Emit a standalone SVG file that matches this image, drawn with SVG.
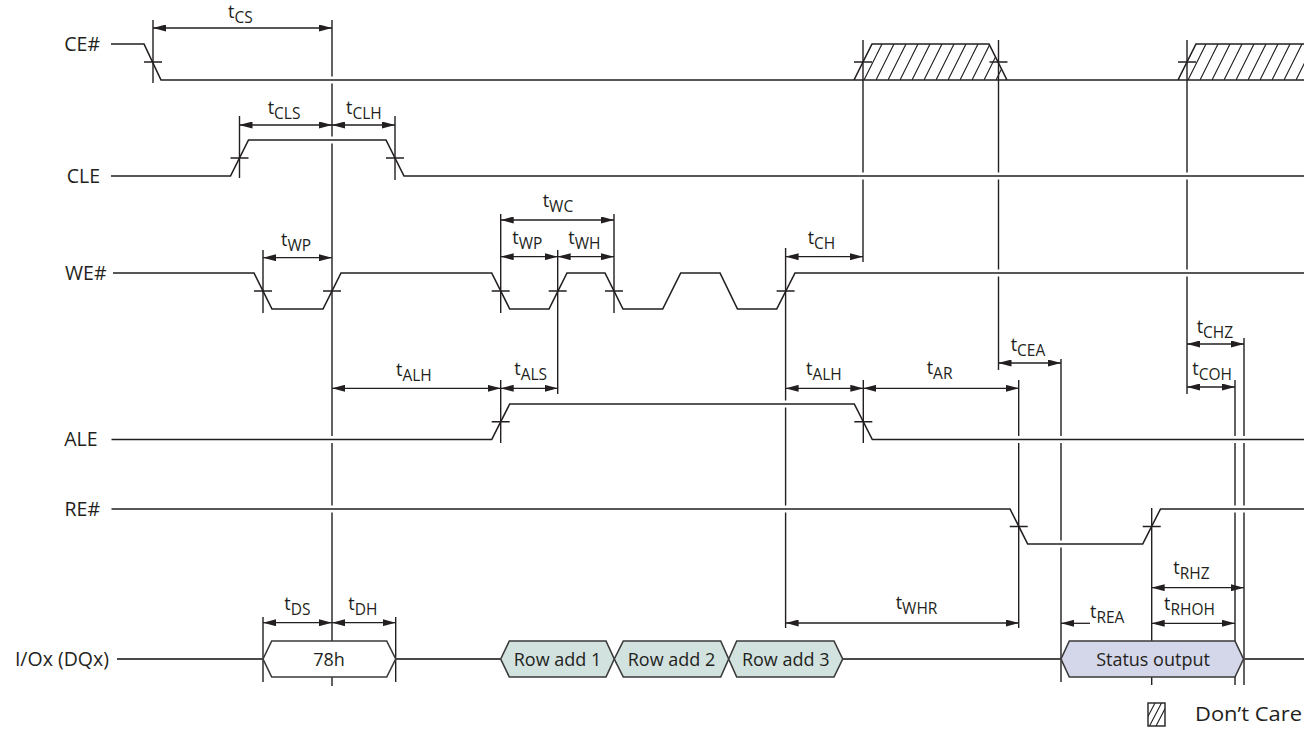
<svg xmlns="http://www.w3.org/2000/svg" width="1312" height="738" viewBox="0 0 1312 738">
<style>
.sig{fill:none;stroke:#231f20;stroke-width:1.6;stroke-linejoin:miter}
.halo{fill:none;stroke:#ffffff;stroke-width:7}
.vl{fill:none;stroke:#231f20;stroke-width:1.4}
.tk{fill:none;stroke:#231f20;stroke-width:1.4}
.dim{fill:none;stroke:#231f20;stroke-width:1.3;marker-start:url(#ah);marker-end:url(#ah)}
.io{fill:none;stroke:#4a4a4a;stroke-width:2}
.bus{stroke:#3a3a3a;stroke-width:1.6;stroke-linejoin:miter}
.lbl{font-family:"Open Sans","Liberation Sans",sans-serif;font-size:19.5px;fill:#231f20}
.bt{font-family:"Open Sans","Liberation Sans",sans-serif;font-size:18px;fill:#231f20;text-anchor:middle}
.tm{font-family:"Open Sans","Liberation Sans",sans-serif;font-size:18px;fill:#231f20}
.sub{font-size:15.5px}
</style>
<defs>
<marker id="ah" markerUnits="userSpaceOnUse" markerWidth="13" markerHeight="7" refX="13" refY="3.5" orient="auto-start-reverse">
<path d="M0,0 L13,3.5 L0,7 z" fill="#231f20"/>
</marker>
<pattern id="hatch" patternUnits="userSpaceOnUse" x="0" y="44" width="12" height="36">
<path d="M-12,36 L6,0 M0,36 L18,0" stroke="#231f20" stroke-width="1.2" fill="none"/>
</pattern>
<clipPath id="lgclip"><rect x="1148" y="703" width="17" height="23"/></clipPath>
</defs>
<rect width="1312" height="738" fill="#ffffff"/>

<g id="connectors">
<g id="verticals">
<path class="vl" d="M153,20V83 M332,20V686 M239.5,116V178 M395,116V180 M263,250V313 M500.7,214V313 M614,214V313 M557.7,250V394 M785.6,248V628 M863,40V262 M500.7,380V443 M863.3,380V443 M998.5,40V370 M1187,40V394 M1018.7,380V628 M1061,359V682 M1151.7,508V685 M1235,380V685 M1244,338V685 M263,617V682 M395.7,617V682"/>
</g>
<g id="halos">
<path class="halo" d="M161,80H845 M248,140H386 M404,176H1304 M800,273H1304 M111,439.5H486 M514,404H849 M877,439.5H1304 M111,509H1005 M1033,544H1138 M1165,509H1304"/>
</g>
</g>

<g id="sig-ce">
<text class="lbl" x="100" y="50.5" text-anchor="end">CE#</text>
<polygon points="854,80 872,44 989,44 1007,80" fill="url(#hatch)"/>
<polygon points="1178,80 1196,44 1304,44 1304,80" fill="url(#hatch)"/>
<path class="sig" d="M111,44H144L161,80H1304 M854,80L872,44H989L1007,80 M1178,80L1196,44H1304"/>
<path class="tk" d="M144,62H162 M854,62H872 M989.5,62H1007.5 M1178,62H1196"/>
</g>

<g id="sig-cle">
<text class="lbl" x="100" y="182.5" text-anchor="end">CLE</text>
<path class="sig" d="M111,176H230.5L248.5,140H386L404,176H1304"/>
<path class="tk" d="M230.5,158H248.5 M386,158H404"/>
</g>

<g id="sig-we">
<text class="lbl" x="106.5" y="279.5" text-anchor="end">WE#</text>
<path class="sig" d="M113,273H254L272,309H323L341,273H491.7L509.7,309H549L567,273H605L623,309H662.7L680.7,273H720L737.5,309H776.7L795,273H1304"/>
<path class="tk" d="M254,291H272 M323,291H341 M491.7,291H509.7 M548.7,291H566.7 M605,291H623 M776.6,291H794.6"/>
</g>

<g id="sig-ale">
<text class="lbl" x="97.5" y="446" text-anchor="end">ALE</text>
<path class="sig" d="M111.5,439.5H491.7L509.7,404H854.3L872.3,439.5H1304"/>
<path class="tk" d="M491.7,421.7H509.7 M854.3,421.7H872.3"/>
</g>

<g id="sig-re">
<text class="lbl" x="100" y="515.5" text-anchor="end">RE#</text>
<path class="sig" d="M111.5,509H1010L1027.7,544H1142.7L1160.5,509H1304"/>
<path class="tk" d="M1009.7,526.5H1027.7 M1142.7,526.5H1160.7"/>
</g>

<g id="sig-io">
<text class="lbl" x="109" y="665.5" text-anchor="end">I/Ox (DQx)</text>
<path class="io" d="M117,659H263 M395.7,659H500.7 M842.7,659H1061 M1243.5,659H1304"/>
</g>

<g id="bus-78h">
<polygon class="bus" fill="#ffffff" points="263,659 271.7,641 386.7,641 395.7,659 386.7,677 271.7,677"/>
<text class="bt" x="329" y="665.5">78h</text>
</g>
<g id="bus-row1">
<polygon class="bus" fill="#d1e2df" points="500.7,659 509.3,641 606,641 614.3,659 606,677 509.3,677"/>
<text class="bt" x="557.5" y="665.5">Row add 1</text>
</g>
<g id="bus-row2">
<polygon class="bus" fill="#d1e2df" points="614.3,659 623.3,641 720.7,641 728.7,659 720.7,677 623.3,677"/>
<text class="bt" x="671.5" y="665.5">Row add 2</text>
</g>
<g id="bus-row3">
<polygon class="bus" fill="#d1e2df" points="728.7,659 736.7,641 834,641 842.7,659 834,677 736.7,677"/>
<text class="bt" x="785.7" y="665.5">Row add 3</text>
</g>
<g id="bus-status">
<polygon class="bus" fill="#d4d6e9" points="1061,659 1069.3,641 1235,641 1243.5,659 1235,677 1069.3,677"/>
<text class="bt" x="1153" y="665.5">Status output</text>
</g>

<g id="dimensions">
<path class="dim" d="M153,28H332"/>
<path class="dim" d="M239.5,125H332"/>
<path class="dim" d="M332,125H395"/>
<path class="dim" d="M263,257.7H332"/>
<path class="dim" d="M500.7,220H614"/>
<path class="dim" d="M500.7,256.7H557.7"/>
<path class="dim" d="M557.7,256.7H614"/>
<path class="dim" d="M785.6,256.7H863"/>
<path class="dim" d="M332,388.3H500.7"/>
<path class="dim" d="M500.7,388.3H557.7"/>
<path class="dim" d="M785.6,388.3H863.3"/>
<path class="dim" d="M863.3,388.3H1018.7"/>
<path class="dim" d="M998.5,363H1061"/>
<path class="dim" d="M1187,344H1244"/>
<path class="dim" d="M1187,387H1235"/>
<path class="dim" d="M1151.7,587.7H1244"/>
<path class="dim" d="M1151.7,623.3H1235"/>
<path fill="none" stroke="#231f20" stroke-width="1.3" marker-start="url(#ah)" d="M1061,623.3H1090"/>
<path class="dim" d="M785.6,623H1018.7"/>
<path class="dim" d="M263,622.7H332"/>
<path class="dim" d="M332,622.7H395.7"/>
</g>

<g id="timing-labels">
<text class="tm" x="228" y="18">t<tspan class="sub" dy="5">CS</tspan></text>
<text class="tm" x="267.7" y="114">t<tspan class="sub" dy="5">CLS</tspan></text>
<text class="tm" x="346" y="114">t<tspan class="sub" dy="5">CLH</tspan></text>
<text class="tm" x="281" y="246">t<tspan class="sub" dy="5">WP</tspan></text>
<text class="tm" x="542.7" y="207">t<tspan class="sub" dy="5">WC</tspan></text>
<text class="tm" x="512.3" y="244">t<tspan class="sub" dy="5">WP</tspan></text>
<text class="tm" x="568.3" y="244">t<tspan class="sub" dy="5">WH</tspan></text>
<text class="tm" x="807.7" y="244">t<tspan class="sub" dy="5">CH</tspan></text>
<text class="tm" x="396" y="375.7">t<tspan class="sub" dy="5">ALH</tspan></text>
<text class="tm" x="514.3" y="375">t<tspan class="sub" dy="5">ALS</tspan></text>
<text class="tm" x="806" y="375">t<tspan class="sub" dy="5">ALH</tspan></text>
<text class="tm" x="926.7" y="374">t<tspan class="sub" dy="5">AR</tspan></text>
<text class="tm" x="1010.7" y="350.5">t<tspan class="sub" dy="5">CEA</tspan></text>
<text class="tm" x="1196.7" y="332.7">t<tspan class="sub" dy="5">CHZ</tspan></text>
<text class="tm" x="1192.3" y="375">t<tspan class="sub" dy="5">COH</tspan></text>
<text class="tm" x="1173.3" y="574">t<tspan class="sub" dy="5">RHZ</tspan></text>
<text class="tm" x="1164" y="610">t<tspan class="sub" dy="5">RHOH</tspan></text>
<text class="tm" x="1090" y="617.7">t<tspan class="sub" dy="5">REA</tspan></text>
<text class="tm" x="895.7" y="609">t<tspan class="sub" dy="5">WHR</tspan></text>
<text class="tm" x="284.3" y="610">t<tspan class="sub" dy="5">DS</tspan></text>
<text class="tm" x="348.3" y="610">t<tspan class="sub" dy="5">DH</tspan></text>
</g>

<g id="legend">
<g clip-path="url(#lgclip)">
<path d="M1143,726L1155,703 M1149.5,726L1161.5,703 M1156,726L1168,703" stroke="#231f20" stroke-width="1.1" fill="none"/>
</g>
<rect x="1148" y="703" width="17" height="23" fill="none" stroke="#231f20" stroke-width="1.4"/>
<text class="lbl" x="1195" y="721" font-size="20" textLength="107" lengthAdjust="spacingAndGlyphs">Don’t Care</text>
</g>
</svg>
